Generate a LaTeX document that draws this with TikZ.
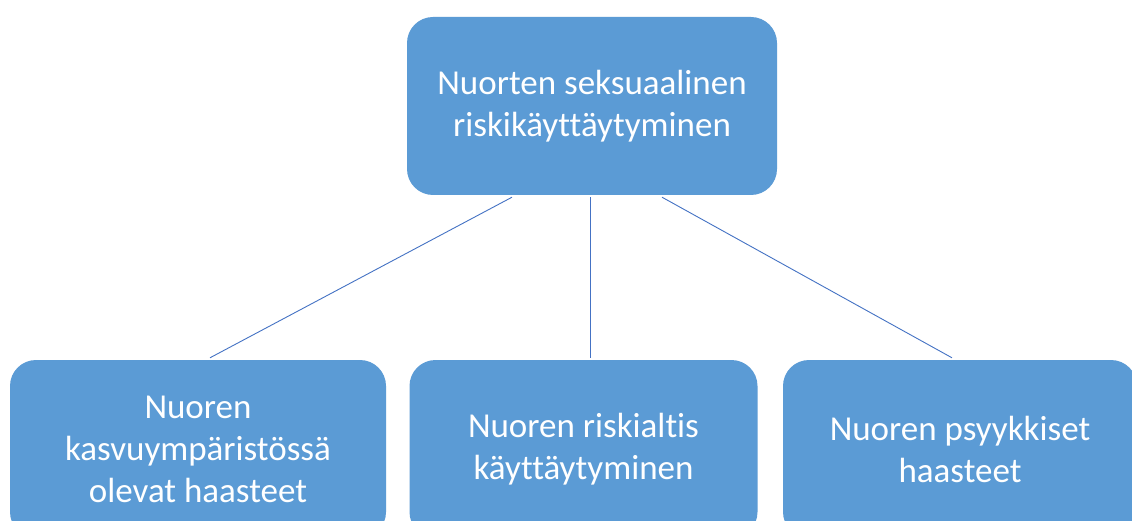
\documentclass[tikz,border=0pt]{standalone}
\usepackage{fontspec}
\setmainfont[Ligatures=NoCommon]{Carlito}
\definecolor{boxblue}{HTML}{5B9BD5}
\definecolor{lineblue}{HTML}{4472C4}
\begin{document}
\begin{tikzpicture}[x=1pt,y=-1pt,
  box/.style={rectangle, rounded corners=26pt, fill=boxblue, draw=none, text=white,
    align=center, inner sep=0pt, font=\fontsize{35}{42}\selectfont},
  conn/.style={draw=lineblue, line width=0.9pt}]
\useasboundingbox (0,0) rectangle (1132,521);
\clip (0,0) rectangle (1132,521);
\fill[white] (0,0) rectangle (1132,521);
\node[box, minimum width=370pt, minimum height=178pt] (top) at (592,106) {Nuorten seksuaalinen\\riskikäyttäytyminen};
\node[box, minimum width=376pt, minimum height=178pt] (left) at (198,449) {Nuoren\\kasvuympäristössä\\olevat haasteet};
\node[box, minimum width=348pt, minimum height=178pt] (mid) at (583.5,449) {Nuoren riskialtis\\käyttäytyminen};
\node[box, minimum width=354pt, minimum height=178pt] (right) at (960,449) {Nuoren psyykkiset\\haasteet};
\draw[conn] ([xshift=-80pt,yshift=-2pt]top.south) -- ([xshift=12pt,yshift=2pt]left.north);
\draw[conn] ([xshift=-2pt,yshift=-2pt]top.south) -- ([xshift=6.5pt,yshift=2pt]mid.north);
\draw[conn] ([xshift=70pt,yshift=-2pt]top.south) -- ([xshift=-8pt,yshift=2pt]right.north);
\end{tikzpicture}
\end{document}
